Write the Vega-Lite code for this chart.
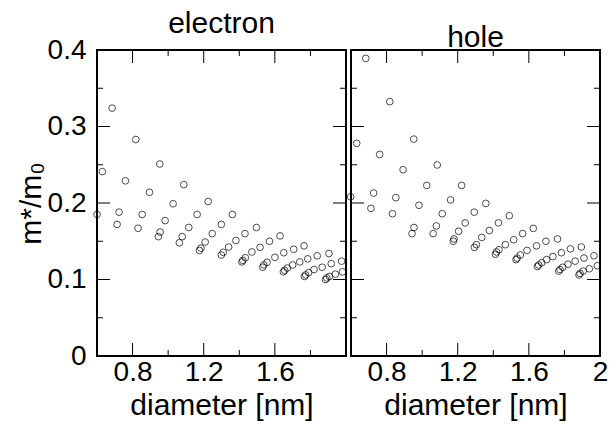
{
  "$schema": "https://vega.github.io/schema/vega-lite/v6.json",
  "padding": {"left": 15, "top": 8, "right": 0, "bottom": 0},
  "spacing": 5,
  "bounds": "flush",
  "config": {
    "view": {"stroke": "black", "strokeWidth": 2},
    "axis": {"domain": false, "grid": false, "ticks": false, "labelFont": "Liberation Sans", "labelFontSize": 28, "labelColor": "black", "titleFont": "Liberation Sans", "titleFontSize": 30, "titleFontWeight": "normal", "titleColor": "black", "labelFlush": false, "labelOverlap": false},
    "title": {"font": "Liberation Sans", "fontSize": 30, "fontWeight": "normal", "color": "black", "offset": -3},
    "rule": {"color": "black", "strokeWidth": 1}
  },
  "datasets": {
    "xmaj": [{"v": 0.8}, {"v": 1.2}, {"v": 1.6}],
    "xmin": [{"v": 1.0}, {"v": 1.4}, {"v": 1.8}],
    "ymaj": [{"v": 0.1}, {"v": 0.2}, {"v": 0.3}],
    "ymin": [{"v": 0.05}, {"v": 0.15}, {"v": 0.25}, {"v": 0.35}],
    "electron": [
      {"d":0.600,"m":0.185},{"d":0.630,"m":0.241},{"d":0.685,"m":0.324},
      {"d":0.713,"m":0.172},{"d":0.724,"m":0.188},{"d":0.760,"m":0.229},{"d":0.818,"m":0.283},
      {"d":0.831,"m":0.167},{"d":0.854,"m":0.185},{"d":0.895,"m":0.214},{"d":0.953,"m":0.251},
      {"d":0.945,"m":0.156},{"d":0.955,"m":0.162},{"d":0.983,"m":0.177},{"d":1.028,"m":0.199},{"d":1.088,"m":0.224},
      {"d":1.063,"m":0.148},{"d":1.079,"m":0.156},{"d":1.116,"m":0.168},{"d":1.163,"m":0.185},{"d":1.225,"m":0.202},
      {"d":1.176,"m":0.138},{"d":1.184,"m":0.141},{"d":1.208,"m":0.149},{"d":1.248,"m":0.160},{"d":1.299,"m":0.172},{"d":1.361,"m":0.185},
      {"d":1.299,"m":0.132},{"d":1.310,"m":0.1355},{"d":1.340,"m":0.1425},{"d":1.381,"m":0.151},{"d":1.432,"m":0.160},{"d":1.496,"m":0.168},
      {"d":1.415,"m":0.123},{"d":1.420,"m":0.125},{"d":1.434,"m":0.1285},{"d":1.471,"m":0.136},{"d":1.517,"m":0.142},{"d":1.570,"m":0.150},{"d":1.629,"m":0.157},
      {"d":1.532,"m":0.116},{"d":1.538,"m":0.119},{"d":1.556,"m":0.1225},{"d":1.600,"m":0.129},{"d":1.650,"m":0.135},{"d":1.706,"m":0.1395},{"d":1.764,"m":0.144},
      {"d":1.648,"m":0.110},{"d":1.655,"m":0.112},{"d":1.670,"m":0.115},{"d":1.700,"m":0.119},{"d":1.740,"m":0.123},{"d":1.785,"m":0.127},{"d":1.838,"m":0.131},{"d":1.904,"m":0.134},
      {"d":1.766,"m":0.104},{"d":1.773,"m":0.106},{"d":1.790,"m":0.109},{"d":1.820,"m":0.113},{"d":1.866,"m":0.116},{"d":1.917,"m":0.1207},{"d":1.975,"m":0.124},
      {"d":1.885,"m":0.100},{"d":1.892,"m":0.102},{"d":1.907,"m":0.104},{"d":1.940,"m":0.107},{"d":1.980,"m":0.110}
    ],
    "hole": [
      {"d":0.598,"m":0.208},{"d":0.632,"m":0.278},{"d":0.683,"m":0.389},
      {"d":0.712,"m":0.193},{"d":0.727,"m":0.213},{"d":0.761,"m":0.2635},{"d":0.818,"m":0.3325},
      {"d":0.833,"m":0.186},{"d":0.852,"m":0.207},{"d":0.893,"m":0.2435},{"d":0.953,"m":0.2835},
      {"d":0.943,"m":0.160},{"d":0.954,"m":0.168},{"d":0.982,"m":0.197},{"d":1.026,"m":0.223},{"d":1.085,"m":0.2497},
      {"d":1.062,"m":0.160},{"d":1.080,"m":0.170},{"d":1.113,"m":0.186},{"d":1.160,"m":0.204},{"d":1.222,"m":0.223},
      {"d":1.175,"m":0.150},{"d":1.179,"m":0.153},{"d":1.205,"m":0.163},{"d":1.242,"m":0.174},{"d":1.293,"m":0.188},{"d":1.358,"m":0.1995},
      {"d":1.294,"m":0.142},{"d":1.305,"m":0.1455},{"d":1.335,"m":0.155},{"d":1.378,"m":0.164},{"d":1.429,"m":0.174},{"d":1.490,"m":0.1834},
      {"d":1.412,"m":0.133},{"d":1.418,"m":0.136},{"d":1.432,"m":0.139},{"d":1.468,"m":0.1455},{"d":1.515,"m":0.152},{"d":1.565,"m":0.160},{"d":1.625,"m":0.1668},
      {"d":1.528,"m":0.126},{"d":1.534,"m":0.128},{"d":1.552,"m":0.132},{"d":1.590,"m":0.138},{"d":1.643,"m":0.144},{"d":1.696,"m":0.150},{"d":1.761,"m":0.153},
      {"d":1.648,"m":0.117},{"d":1.655,"m":0.119},{"d":1.672,"m":0.122},{"d":1.700,"m":0.126},{"d":1.735,"m":0.130},{"d":1.783,"m":0.135},{"d":1.834,"m":0.140},{"d":1.895,"m":0.1425},
      {"d":1.768,"m":0.111},{"d":1.775,"m":0.113},{"d":1.790,"m":0.116},{"d":1.820,"m":0.120},{"d":1.860,"m":0.124},{"d":1.910,"m":0.128},{"d":1.966,"m":0.131},
      {"d":1.882,"m":0.106},{"d":1.888,"m":0.108},{"d":1.905,"m":0.111},{"d":1.940,"m":0.114},{"d":1.985,"m":0.118}
    ]
  },
  "hconcat": [
    {
      "width": 249, "height": 306,
      "title": "electron",
      "layer": [
        {"data": {"name": "electron"},
         "mark": {"type": "point", "shape": "circle", "filled": false, "stroke": "black", "strokeWidth": 1, "size": 45},
         "encoding": {
           "x": {"field": "d", "type": "quantitative", "scale": {"domain": [0.6, 2.0], "nice": false, "zero": false}, "axis": {"orient": "bottom", "values": [0.8, 1.2, 1.6], "labelPadding": 2, "format": "~g", "title": "diameter [nm]", "titlePadding": 4}},
           "y": {"field": "m", "type": "quantitative", "scale": {"domain": [0, 0.4], "nice": false, "zero": false}, "axis": {"orient": "left", "values": [0, 0.1, 0.2, 0.3, 0.4], "labelPadding": 11, "format": "~g", "title": "m*/m₀", "titlePadding": 1}}
         }},
        {"data": {"name": "xmaj"}, "mark": "rule",
         "encoding": {"x": {"field": "v", "type": "quantitative", "scale": {"domain": [0.6, 2.0], "nice": false, "zero": false}, "axis": {"orient": "bottom", "values": [0.8, 1.2, 1.6], "labelPadding": 2, "format": "~g", "title": "diameter [nm]", "titlePadding": 4}}, "y": {"datum": 0, "type": "quantitative", "scale": {"domain": [0, 0.4], "nice": false, "zero": false}, "axis": {"orient": "left", "values": [0, 0.1, 0.2, 0.3, 0.4], "labelPadding": 11, "format": "~g", "title": "m*/m₀", "titlePadding": 1}}, "y2": {"datum": 0.017}}},
        {"data": {"name": "xmaj"}, "mark": "rule",
         "encoding": {"x": {"field": "v", "type": "quantitative", "scale": {"domain": [0.6, 2.0], "nice": false, "zero": false}, "axis": {"orient": "bottom", "values": [0.8, 1.2, 1.6], "labelPadding": 2, "format": "~g", "title": "diameter [nm]", "titlePadding": 4}}, "y": {"datum": 0.4, "type": "quantitative", "scale": {"domain": [0, 0.4], "nice": false, "zero": false}, "axis": {"orient": "left", "values": [0, 0.1, 0.2, 0.3, 0.4], "labelPadding": 11, "format": "~g", "title": "m*/m₀", "titlePadding": 1}}, "y2": {"datum": 0.383}}},
        {"data": {"name": "xmin"}, "mark": "rule",
         "encoding": {"x": {"field": "v", "type": "quantitative", "scale": {"domain": [0.6, 2.0], "nice": false, "zero": false}, "axis": {"orient": "bottom", "values": [0.8, 1.2, 1.6], "labelPadding": 2, "format": "~g", "title": "diameter [nm]", "titlePadding": 4}}, "y": {"datum": 0, "type": "quantitative", "scale": {"domain": [0, 0.4], "nice": false, "zero": false}, "axis": {"orient": "left", "values": [0, 0.1, 0.2, 0.3, 0.4], "labelPadding": 11, "format": "~g", "title": "m*/m₀", "titlePadding": 1}}, "y2": {"datum": 0.0078}}},
        {"data": {"name": "xmin"}, "mark": "rule",
         "encoding": {"x": {"field": "v", "type": "quantitative", "scale": {"domain": [0.6, 2.0], "nice": false, "zero": false}, "axis": {"orient": "bottom", "values": [0.8, 1.2, 1.6], "labelPadding": 2, "format": "~g", "title": "diameter [nm]", "titlePadding": 4}}, "y": {"datum": 0.4, "type": "quantitative", "scale": {"domain": [0, 0.4], "nice": false, "zero": false}, "axis": {"orient": "left", "values": [0, 0.1, 0.2, 0.3, 0.4], "labelPadding": 11, "format": "~g", "title": "m*/m₀", "titlePadding": 1}}, "y2": {"datum": 0.3922}}},
        {"data": {"name": "ymaj"}, "mark": "rule",
         "encoding": {"y": {"field": "v", "type": "quantitative", "scale": {"domain": [0, 0.4], "nice": false, "zero": false}, "axis": {"orient": "left", "values": [0, 0.1, 0.2, 0.3, 0.4], "labelPadding": 11, "format": "~g", "title": "m*/m₀", "titlePadding": 1}}, "x": {"datum": 0.6, "type": "quantitative", "scale": {"domain": [0.6, 2.0], "nice": false, "zero": false}, "axis": {"orient": "bottom", "values": [0.8, 1.2, 1.6], "labelPadding": 2, "format": "~g", "title": "diameter [nm]", "titlePadding": 4}}, "x2": {"datum": 0.673}}},
        {"data": {"name": "ymaj"}, "mark": "rule",
         "encoding": {"y": {"field": "v", "type": "quantitative", "scale": {"domain": [0, 0.4], "nice": false, "zero": false}, "axis": {"orient": "left", "values": [0, 0.1, 0.2, 0.3, 0.4], "labelPadding": 11, "format": "~g", "title": "m*/m₀", "titlePadding": 1}}, "x": {"datum": 2.0, "type": "quantitative", "scale": {"domain": [0.6, 2.0], "nice": false, "zero": false}, "axis": {"orient": "bottom", "values": [0.8, 1.2, 1.6], "labelPadding": 2, "format": "~g", "title": "diameter [nm]", "titlePadding": 4}}, "x2": {"datum": 1.927}}},
        {"data": {"name": "ymin"}, "mark": "rule",
         "encoding": {"y": {"field": "v", "type": "quantitative", "scale": {"domain": [0, 0.4], "nice": false, "zero": false}, "axis": {"orient": "left", "values": [0, 0.1, 0.2, 0.3, 0.4], "labelPadding": 11, "format": "~g", "title": "m*/m₀", "titlePadding": 1}}, "x": {"datum": 0.6, "type": "quantitative", "scale": {"domain": [0.6, 2.0], "nice": false, "zero": false}, "axis": {"orient": "bottom", "values": [0.8, 1.2, 1.6], "labelPadding": 2, "format": "~g", "title": "diameter [nm]", "titlePadding": 4}}, "x2": {"datum": 0.634}}},
        {"data": {"name": "ymin"}, "mark": "rule",
         "encoding": {"y": {"field": "v", "type": "quantitative", "scale": {"domain": [0, 0.4], "nice": false, "zero": false}, "axis": {"orient": "left", "values": [0, 0.1, 0.2, 0.3, 0.4], "labelPadding": 11, "format": "~g", "title": "m*/m₀", "titlePadding": 1}}, "x": {"datum": 2.0, "type": "quantitative", "scale": {"domain": [0.6, 2.0], "nice": false, "zero": false}, "axis": {"orient": "bottom", "values": [0.8, 1.2, 1.6], "labelPadding": 2, "format": "~g", "title": "diameter [nm]", "titlePadding": 4}}, "x2": {"datum": 1.966}}}
      ]
    },
    {
      "width": 249, "height": 306,
      "title": "hole",
      "layer": [
        {"data": {"name": "hole"},
         "mark": {"type": "point", "shape": "circle", "filled": false, "stroke": "black", "strokeWidth": 1, "size": 45},
         "encoding": {
           "x": {"field": "d", "type": "quantitative", "scale": {"domain": [0.6, 2.0], "nice": false, "zero": false}, "axis": {"orient": "bottom", "values": [0.8, 1.2, 1.6, 2.0], "labelPadding": 2, "format": "~g", "title": "diameter [nm]", "titlePadding": 4}},
           "y": {"field": "m", "type": "quantitative", "scale": {"domain": [0, 0.4], "nice": false, "zero": false}, "axis": null}
         }},
        {"data": {"name": "xmaj"}, "mark": "rule",
         "encoding": {"x": {"field": "v", "type": "quantitative", "scale": {"domain": [0.6, 2.0], "nice": false, "zero": false}, "axis": {"orient": "bottom", "values": [0.8, 1.2, 1.6, 2.0], "labelPadding": 2, "format": "~g", "title": "diameter [nm]", "titlePadding": 4}}, "y": {"datum": 0, "type": "quantitative", "scale": {"domain": [0, 0.4], "nice": false, "zero": false}, "axis": null}, "y2": {"datum": 0.017}}},
        {"data": {"name": "xmaj"}, "mark": "rule",
         "encoding": {"x": {"field": "v", "type": "quantitative", "scale": {"domain": [0.6, 2.0], "nice": false, "zero": false}, "axis": {"orient": "bottom", "values": [0.8, 1.2, 1.6, 2.0], "labelPadding": 2, "format": "~g", "title": "diameter [nm]", "titlePadding": 4}}, "y": {"datum": 0.4, "type": "quantitative", "scale": {"domain": [0, 0.4], "nice": false, "zero": false}, "axis": null}, "y2": {"datum": 0.383}}},
        {"data": {"name": "xmin"}, "mark": "rule",
         "encoding": {"x": {"field": "v", "type": "quantitative", "scale": {"domain": [0.6, 2.0], "nice": false, "zero": false}, "axis": {"orient": "bottom", "values": [0.8, 1.2, 1.6, 2.0], "labelPadding": 2, "format": "~g", "title": "diameter [nm]", "titlePadding": 4}}, "y": {"datum": 0, "type": "quantitative", "scale": {"domain": [0, 0.4], "nice": false, "zero": false}, "axis": null}, "y2": {"datum": 0.0078}}},
        {"data": {"name": "xmin"}, "mark": "rule",
         "encoding": {"x": {"field": "v", "type": "quantitative", "scale": {"domain": [0.6, 2.0], "nice": false, "zero": false}, "axis": {"orient": "bottom", "values": [0.8, 1.2, 1.6, 2.0], "labelPadding": 2, "format": "~g", "title": "diameter [nm]", "titlePadding": 4}}, "y": {"datum": 0.4, "type": "quantitative", "scale": {"domain": [0, 0.4], "nice": false, "zero": false}, "axis": null}, "y2": {"datum": 0.3922}}},
        {"data": {"name": "ymaj"}, "mark": "rule",
         "encoding": {"y": {"field": "v", "type": "quantitative", "scale": {"domain": [0, 0.4], "nice": false, "zero": false}, "axis": null}, "x": {"datum": 0.6, "type": "quantitative", "scale": {"domain": [0.6, 2.0], "nice": false, "zero": false}, "axis": {"orient": "bottom", "values": [0.8, 1.2, 1.6, 2.0], "labelPadding": 2, "format": "~g", "title": "diameter [nm]", "titlePadding": 4}}, "x2": {"datum": 0.673}}},
        {"data": {"name": "ymaj"}, "mark": "rule",
         "encoding": {"y": {"field": "v", "type": "quantitative", "scale": {"domain": [0, 0.4], "nice": false, "zero": false}, "axis": null}, "x": {"datum": 2.0, "type": "quantitative", "scale": {"domain": [0.6, 2.0], "nice": false, "zero": false}, "axis": {"orient": "bottom", "values": [0.8, 1.2, 1.6, 2.0], "labelPadding": 2, "format": "~g", "title": "diameter [nm]", "titlePadding": 4}}, "x2": {"datum": 1.927}}},
        {"data": {"name": "ymin"}, "mark": "rule",
         "encoding": {"y": {"field": "v", "type": "quantitative", "scale": {"domain": [0, 0.4], "nice": false, "zero": false}, "axis": null}, "x": {"datum": 0.6, "type": "quantitative", "scale": {"domain": [0.6, 2.0], "nice": false, "zero": false}, "axis": {"orient": "bottom", "values": [0.8, 1.2, 1.6, 2.0], "labelPadding": 2, "format": "~g", "title": "diameter [nm]", "titlePadding": 4}}, "x2": {"datum": 0.634}}},
        {"data": {"name": "ymin"}, "mark": "rule",
         "encoding": {"y": {"field": "v", "type": "quantitative", "scale": {"domain": [0, 0.4], "nice": false, "zero": false}, "axis": null}, "x": {"datum": 2.0, "type": "quantitative", "scale": {"domain": [0.6, 2.0], "nice": false, "zero": false}, "axis": {"orient": "bottom", "values": [0.8, 1.2, 1.6, 2.0], "labelPadding": 2, "format": "~g", "title": "diameter [nm]", "titlePadding": 4}}, "x2": {"datum": 1.966}}}
      ]
    }
  ]
}
